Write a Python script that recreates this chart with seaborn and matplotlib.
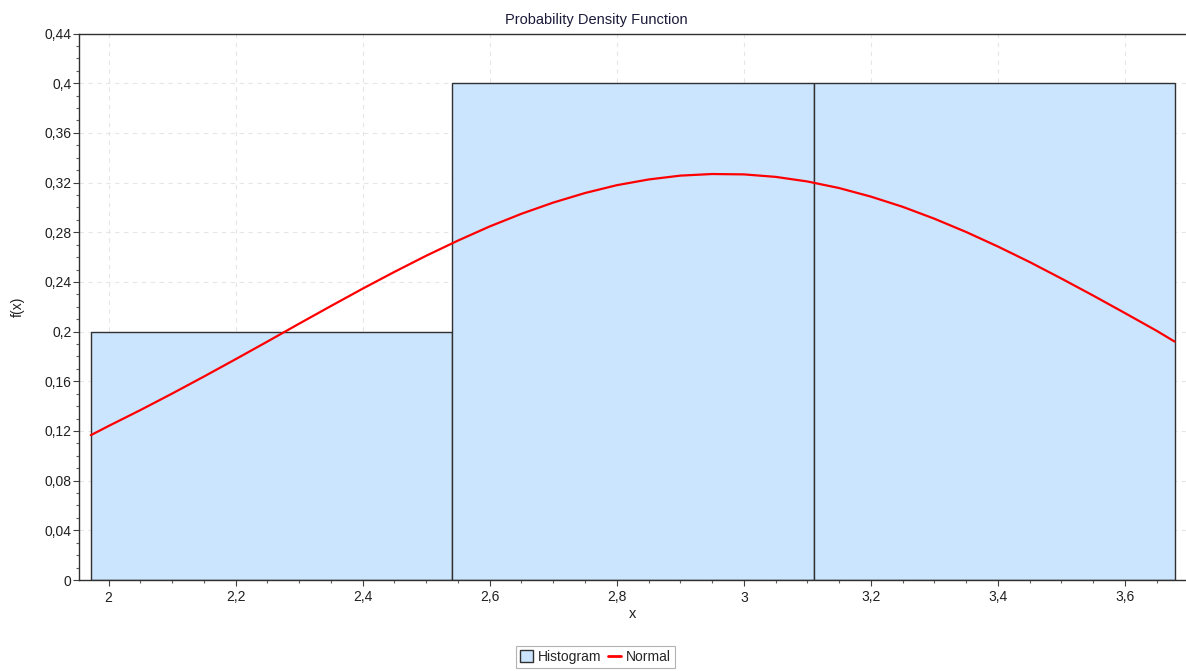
import numpy as np
import pandas as pd
import matplotlib
matplotlib.use("Agg")
import matplotlib.pyplot as plt
from matplotlib.patches import Patch
from matplotlib.lines import Line2D
from matplotlib.ticker import MultipleLocator
from matplotlib.transforms import offset_copy
import seaborn as sns

# ---- data ----
bin_edges = [1.972, 2.541, 3.110, 3.678]
bin_heights = [0.2, 0.4, 0.4]

curve_x = [1.972, 2.0, 2.05, 2.1, 2.15, 2.2, 2.25, 2.3, 2.35, 2.4, 2.45, 2.5,
           2.55, 2.6, 2.65, 2.7, 2.75, 2.8, 2.85, 2.9, 2.95, 3.0, 3.05, 3.1,
           3.15, 3.2, 3.25, 3.3, 3.35, 3.4, 3.45, 3.5, 3.55, 3.6, 3.65, 3.678]
curve_y = [0.1166, 0.1240, 0.1368, 0.1501, 0.1638, 0.1778, 0.1920, 0.2064,
           0.2206, 0.2346, 0.2481, 0.2611, 0.2733, 0.2847, 0.2949, 0.3039,
           0.3116, 0.3179, 0.3225, 0.3256, 0.3269, 0.3266, 0.3246, 0.3209,
           0.3156, 0.3087, 0.3005, 0.2909, 0.2802, 0.2685, 0.2560, 0.2427,
           0.2290, 0.2149, 0.2006, 0.1920]

x_ticks = [2.0, 2.2, 2.4, 2.6, 2.8, 3.0, 3.2, 3.4, 3.6]
x_tick_labels = ["2", "2,2", "2,4", "2,6", "2,8", "3", "3,2", "3,4", "3,6"]
y_ticks = [0.0, 0.04, 0.08, 0.12, 0.16, 0.2, 0.24, 0.28, 0.32, 0.36, 0.4, 0.44]
y_tick_labels = ["0", "0,04", "0,08", "0,12", "0,16", "0,2", "0,24", "0,28",
                 "0,32", "0,36", "0,4", "0,44"]

title = "Probability Density Function"
x_label = "x"
y_label = "f(x)"
legend_labels = ["Histogram", "Normal"]

# ---- styling ----
sns.set_theme(style="white")
plt.rcParams["font.family"] = ["Liberation Sans", "DejaVu Sans"]

bar_color = "#CCE5FF"
line_color = "#FF0000"

fig = plt.figure(figsize=(11.86, 6.71), dpi=100)
ax = fig.add_axes([0.0669, 0.1356, 0.9331, 0.8144])

centers = [(bin_edges[i] + bin_edges[i + 1]) / 2 for i in range(len(bin_heights))]
hist_df = pd.DataFrame({"x": centers, "w": bin_heights})
sns.histplot(data=hist_df, x="x", weights="w", bins=bin_edges, stat="count",
             color=bar_color, alpha=1.0, edgecolor="#303030", linewidth=1.0,
             ax=ax, zorder=2)

curve_df = pd.DataFrame({"x": curve_x, "y": curve_y})
sns.lineplot(data=curve_df, x="x", y="y", color=line_color, linewidth=1.6,
             ax=ax, zorder=3)

ax.set_xlim(1.954, 3.696)
ax.set_ylim(0, 0.44)
ax.set_xticks(x_ticks)
ax.set_xticklabels(x_tick_labels)
ax.set_yticks(y_ticks)
ax.set_yticklabels(y_tick_labels)
ax.xaxis.set_minor_locator(MultipleLocator(0.05))
ax.yaxis.set_minor_locator(MultipleLocator(0.01))

ax.tick_params(axis="both", which="major", direction="out", length=4, width=0.8,
               color="#404040", labelsize=10, pad=1.5, labelcolor="#202020")
ax.tick_params(axis="both", which="minor", direction="out", length=2.5, width=0.8,
               color="#606060")
ax.tick_params(axis="x", which="major", pad=3)
ax.xaxis.set_ticks_position("bottom")
ax.yaxis.set_ticks_position("left")

ax.grid(True, which="major", color="#E6E6E6", linestyle=(0, (4, 4)), linewidth=0.8)
ax.set_axisbelow(True)

for side in ["left", "bottom", "top"]:
    ax.spines[side].set_visible(True)
    ax.spines[side].set_color("#303030")
    ax.spines[side].set_linewidth(1.0)
ax.spines["right"].set_visible(False)

fig.text(0.503, 0.970, title, ha="center", va="center", fontsize=10.5,
         color="#1a1a3a")
ax.set_xlabel(x_label, fontsize=10.5, color="#202020", labelpad=2)
ax.set_ylabel(y_label, fontsize=10, color="#202020", labelpad=14)

handles = [Patch(facecolor=bar_color, edgecolor="#303030", linewidth=1.0),
           Line2D([0], [0], color=line_color, linewidth=2.0)]
leg = fig.legend(handles, legend_labels, loc="center", bbox_to_anchor=(0.502, 0.021),
                 ncol=2, fontsize=10, frameon=True, fancybox=False,
                 handlelength=0.9, handleheight=0.9, handletextpad=0.35,
                 columnspacing=0.5, borderpad=0.3, borderaxespad=0.0)
leg.get_frame().set_edgecolor("#A0A0A0")
leg.get_frame().set_linewidth(0.8)

# align x tick labels without a comma to the same baseline as the others
for lbl in ax.get_xticklabels():
    if "," not in lbl.get_text():
        lbl.set_transform(offset_copy(lbl.get_transform(), fig=fig, x=0,
                                      y=-0.6, units="points"))

fig.savefig("out.png", dpi=100)
